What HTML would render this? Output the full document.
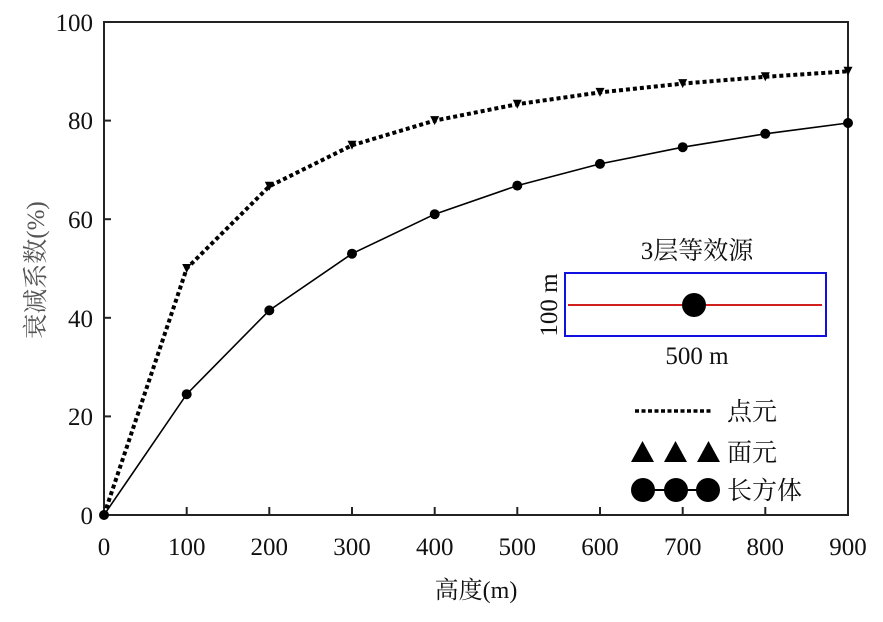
<!DOCTYPE html>
<html><head><meta charset="utf-8"><style>
html,body{margin:0;padding:0;background:#fff;}
svg text{font-family:"Liberation Serif","Noto Serif CJK SC","Noto Sans CJK SC",serif;fill:#111;}
</style></head><body>
<svg width="883" height="617" viewBox="0 0 883 617" xmlns="http://www.w3.org/2000/svg">
<rect x="104" y="22" width="744" height="493" fill="none" stroke="#222" stroke-width="2"/>
<g stroke="#222" stroke-width="2">
<line x1="104" y1="416.4" x2="111" y2="416.4"/>
<line x1="104" y1="317.8" x2="111" y2="317.8"/>
<line x1="104" y1="219.2" x2="111" y2="219.2"/>
<line x1="104" y1="120.6" x2="111" y2="120.6"/>
<line x1="186.7" y1="515" x2="186.7" y2="507"/>
<line x1="269.3" y1="515" x2="269.3" y2="507"/>
<line x1="352" y1="515" x2="352" y2="507"/>
<line x1="434.7" y1="515" x2="434.7" y2="507"/>
<line x1="517.3" y1="515" x2="517.3" y2="507"/>
<line x1="600" y1="515" x2="600" y2="507"/>
<line x1="682.7" y1="515" x2="682.7" y2="507"/>
<line x1="765.3" y1="515" x2="765.3" y2="507"/>
</g>
<g font-size="25" text-anchor="end">
<text x="93" y="524">0</text>
<text x="93" y="425">20</text>
<text x="93" y="327">40</text>
<text x="93" y="228">60</text>
<text x="93" y="129">80</text>
<text x="93" y="31">100</text>
</g>
<g font-size="25" text-anchor="middle">
<text x="104" y="555">0</text>
<text x="186.7" y="555">100</text>
<text x="269.3" y="555">200</text>
<text x="352" y="555">300</text>
<text x="434.7" y="555">400</text>
<text x="517.3" y="555">500</text>
<text x="600" y="555">600</text>
<text x="682.7" y="555">700</text>
<text x="765.3" y="555">800</text>
<text x="848" y="555">900</text>
</g>
<text x="476" y="598" font-size="24" text-anchor="middle">高度(m)</text>
<text transform="translate(44,270) rotate(-90)" font-size="25" text-anchor="middle" style="fill:#555">衰减系数(%)</text>

<polyline fill="none" stroke="#000" stroke-width="1.6" points="104,515 186.7,394.2 269.3,310.4 352,253.7 434.7,214.2 517.3,185.6 600,163.9 682.7,147.2 765.3,133.8 848,123"/>
<g fill="#000">
<circle cx="104" cy="515" r="5"/><circle cx="186.7" cy="394.2" r="5"/><circle cx="269.3" cy="310.4" r="5"/><circle cx="352" cy="253.7" r="5"/><circle cx="434.7" cy="214.2" r="5"/><circle cx="517.3" cy="185.6" r="5"/><circle cx="600" cy="163.9" r="5"/><circle cx="682.7" cy="147.2" r="5"/><circle cx="765.3" cy="133.8" r="5"/><circle cx="848" cy="123" r="5"/>
</g>
<polyline fill="none" stroke="#000" stroke-width="4" stroke-dasharray="4 3" points="104,515 186.7,268.5 269.3,186.3 352,145.3 434.7,120.6 517.3,104.2 600,92.4 682.7,83.6 765.3,76.8 848,71.3"/>
<g fill="#000">
<path d="M182.2,264 h9 l-4.5,9 z"/><path d="M264.8,181.8 h9 l-4.5,9 z"/><path d="M347.5,140.8 h9 l-4.5,9 z"/><path d="M430.2,116.1 h9 l-4.5,9 z"/><path d="M512.8,99.7 h9 l-4.5,9 z"/><path d="M595.5,87.9 h9 l-4.5,9 z"/><path d="M678.2,79.1 h9 l-4.5,9 z"/><path d="M760.8,72.3 h9 l-4.5,9 z"/><path d="M843.5,66.8 h9 l-4.5,9 z"/>
</g>

<text x="697" y="259" font-size="25" text-anchor="middle">3层等效源</text>
<rect x="565" y="273" width="261" height="63" fill="#fff" stroke="#1010e0" stroke-width="2"/>
<line x1="568" y1="305" x2="822" y2="305" stroke="#d02020" stroke-width="2"/>
<circle cx="694" cy="305" r="12" fill="#000"/>
<text transform="translate(557,305) rotate(-90)" font-size="25" text-anchor="middle">100 m</text>
<text x="697" y="364" font-size="25" text-anchor="middle">500 m</text>

<line x1="635" y1="411" x2="712" y2="411" stroke="#000" stroke-width="3.5" stroke-dasharray="4 2.5"/>
<text x="727" y="420" font-size="25">点元</text>
<g fill="#000">
<path d="M631,462 h23 l-11.5,-21 z"/><path d="M664,462 h23 l-11.5,-21 z"/><path d="M697,462 h23 l-11.5,-21 z"/>
</g>
<text x="727" y="461" font-size="25">面元</text>
<line x1="643" y1="490" x2="708" y2="490" stroke="#000" stroke-width="2"/>
<g fill="#000"><circle cx="643" cy="490" r="12"/><circle cx="676" cy="490" r="12"/><circle cx="708" cy="490" r="12"/></g>
<text x="727" y="499" font-size="25">长方体</text>
</svg>
</body></html>
